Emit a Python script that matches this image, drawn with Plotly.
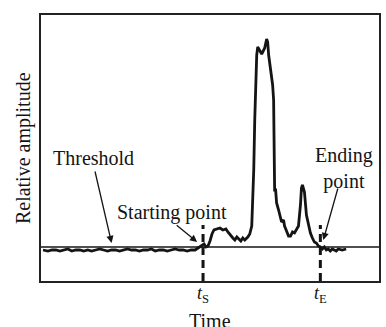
import plotly.graph_objects as go

# Signal (time units, relative amplitude units)
time = [2, 7, 11, 15, 19, 23, 27, 31, 35, 39, 43, 47, 51, 55, 59, 63, 67, 71, 75, 79,
        83, 87, 91, 95, 99, 103, 107, 111, 115, 119, 123, 127, 131, 135, 139, 143, 147, 151, 155,
        158, 161, 164, 166, 168, 170, 172, 174, 177, 180, 183, 186, 188, 191, 193, 195, 197, 199,
        201, 203, 205, 208, 210, 212, 213, 214, 215, 216, 217, 218, 220, 222, 223, 225, 227, 228,
        229, 231, 233, 234, 234.5, 235, 236, 237, 239, 240, 242, 244, 245, 247, 249, 251, 253, 255,
        257, 259, 261, 262, 263, 265, 267, 269, 271, 273, 275, 277, 279, 281, 283, 285, 287, 289,
        291, 293, 295, 297, 299, 303, 307]
amplitude = [31, 30, 31, 31, 30, 31, 32, 30, 31, 31, 30, 31, 30, 31, 32, 31, 30, 31, 31, 30,
             31, 32, 31, 31, 30, 31, 31, 32, 30, 31, 31, 30, 31, 32, 31, 31, 30, 31, 31,
             33, 35, 37, 34, 35, 40, 47, 51, 52, 53, 51, 52, 49, 45, 43, 41, 44, 42,
             40, 43, 41, 44, 47, 55, 76, 111, 161, 201, 226, 234, 231, 227, 229, 233, 242, 239,
             226, 211, 196, 181, 131, 91, 91, 78, 71, 66, 59, 61, 55, 50, 45, 45, 49, 48,
             51, 55, 76, 93, 96, 89, 66, 55, 48, 43, 39, 38, 35, 34, 32, 34, 31, 32,
             30, 32, 31, 30, 32, 31, 32]

threshold = 34
event_times = [163, 281]
event_labels = ["<i>t</i><sub>S</sub>", "<i>t</i><sub>E</sub>"]
dash_top = 56

FONT = "Liberation Serif, Times New Roman, serif"
INK = "#141414"

fig = go.Figure()
fig.add_trace(go.Scatter(x=time, y=amplitude, mode="lines",
                         line=dict(color=INK, width=2.8), hoverinfo="skip",
                         showlegend=False))

# threshold line
fig.add_shape(type="line", xref="x", yref="y", x0=0, x1=340, y0=threshold, y1=threshold,
              line=dict(color=INK, width=1.6))

# dashed start / end markers
for t in event_times:
    fig.add_shape(type="line", xref="x", yref="y", x0=t, x1=t, y0=0, y1=dash_top,
                  line=dict(color=INK, width=3, dash="8px,5px"))

anns = []
for t, lab in zip(event_times, event_labels):
    anns.append(dict(x=t, y=-0.05, xref="x", yref="paper", text=lab, showarrow=False,
                     font=dict(family=FONT, size=18, color=INK), xanchor="center", yanchor="middle"))

# text labels
anns += [
    dict(x=53, y=123, xref="x", yref="y", text="Threshold", showarrow=False,
         font=dict(family=FONT, size=20, color=INK)),
    dict(x=132, y=69, xref="x", yref="y", text="Starting point", showarrow=False,
         font=dict(family=FONT, size=20, color=INK)),
    dict(x=305, y=113, xref="x", yref="y", text="Ending<br>point", showarrow=False,
         font=dict(family=FONT, size=20, color=INK)),
]
# arrows
arrows = [((54, 111), (71, 38)), ((135, 57), (157, 39)), ((299, 94), (284, 41))]
for (ax_, ay_), (x_, y_) in arrows:
    anns.append(dict(x=x_, y=y_, ax=ax_, ay=ay_, xref="x", yref="y", axref="x", ayref="y",
                     text="", showarrow=True, arrowhead=2, arrowsize=1.1, arrowwidth=1.3,
                     arrowcolor=INK))

# axis titles
anns.append(dict(x=-0.053, y=0.5, xref="paper", yref="paper", text="Relative amplitude",
                 textangle=-90, showarrow=False, font=dict(family=FONT, size=20, color=INK),
                 xanchor="center", yanchor="middle"))
anns.append(dict(x=0.5, y=-0.15, xref="paper", yref="paper", text="Time",
                 showarrow=False, font=dict(family=FONT, size=20, color=INK),
                 xanchor="center", yanchor="middle"))

fig.update_layout(
    width=386, height=327,
    margin=dict(l=41, r=5, t=15, b=46),
    paper_bgcolor="white", plot_bgcolor="white",
    annotations=anns,
    xaxis=dict(range=[0, 340], showgrid=False, zeroline=False, showticklabels=False,
               showline=True, mirror=True, linecolor="#222", linewidth=1.6, ticks=""),
    yaxis=dict(range=[0, 266], showgrid=False, zeroline=False, showticklabels=False,
               showline=True, mirror=True, linecolor="#222", linewidth=1.6, ticks=""),
)

fig.write_html("out.html", config={"displayModeBar": False},
               post_script="document.body.style.margin='0px';document.body.style.overflow='hidden';")
